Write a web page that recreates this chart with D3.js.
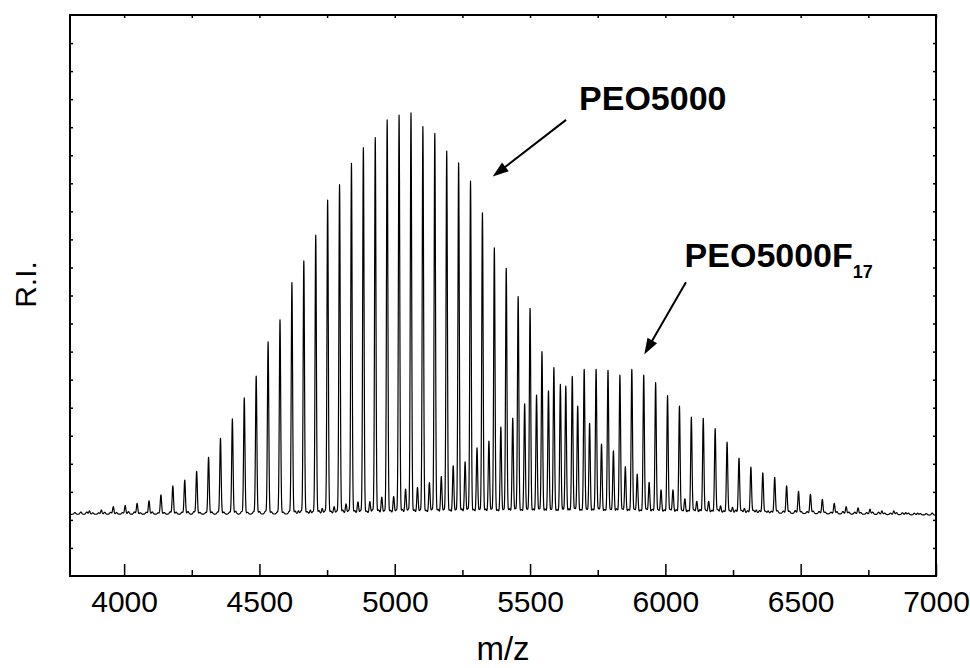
<!DOCTYPE html>
<html>
<head>
<meta charset="utf-8">
<script src="https://cdn.jsdelivr.net/npm/d3@7"></script>
<style>
  body { margin: 0; background: #fff; }
  svg { display: block; }
  text { font-family: "Liberation Sans", Arial, Helvetica, sans-serif; fill: #000; }
</style>
</head>
<body>
<svg id="chart" width="970" height="668"></svg>
<script>
// ---- axes ----
const xDomain = [3800, 7000];
const xMajorTicks = [4000, 4500, 5000, 5500, 6000, 6500, 7000];
const xMinorTicks = [4250, 4750, 5250, 5750, 6250, 6750];
const yDomain = [0, 20];
const yTicks = [1, 2, 3, 4, 5, 6, 7, 8, 9, 10, 11, 12, 13, 14, 15, 16, 17, 18, 19];
const xTitle = "m/z";
const yTitle = "R.I.";

// ---- PEO5000 oligomer peaks (m/z, apex R.I.) ----
const peoMz = [3872, 3916, 3960, 4004, 4048, 4092, 4136, 4180, 4224, 4268, 4312, 4356, 4400, 4444,
  4488, 4532, 4576, 4620, 4664, 4708, 4752, 4796, 4840, 4884, 4928, 4972, 5016, 5060, 5104, 5148,
  5192, 5236, 5280, 5324, 5368, 5412, 5456, 5500, 5544, 5588, 5632, 5676, 5720, 5764, 5808, 5852,
  5896, 5940, 5984, 6028, 6072, 6116, 6160, 6204, 6248, 6292, 6336, 6380];
const peoApex = [2.32, 2.35, 2.47, 2.51, 2.59, 2.68, 2.89, 3.21, 3.42, 3.73, 4.23, 4.91, 5.60, 6.35,
  7.13, 8.35, 9.13, 10.46, 11.23, 12.15, 13.40, 13.95, 14.71, 15.27, 15.63, 16.26, 16.43, 16.51, 16.02, 15.78,
  15.15, 14.73, 14.08, 12.95, 11.70, 10.97, 9.96, 9.54, 8.00, 7.43, 6.77, 6.06, 5.44, 4.70, 4.46, 3.90,
  3.63, 3.34, 3.07, 3.07, 2.75, 2.66, 2.66, 2.50, 2.45, 2.41, 2.35, 2.32];

// ---- PEO5000F17 oligomer peaks (m/z, apex R.I.) ----
const f17Mz = [4644, 4688, 4732, 4776, 4820, 4864, 4908, 4952, 4996, 5040, 5084, 5128, 5172, 5216,
  5260, 5304, 5348, 5392, 5436, 5480, 5524, 5568, 5612, 5656, 5700, 5744, 5788, 5832, 5876, 5920,
  5964, 6008, 6052, 6096, 6140, 6184, 6228, 6272, 6316, 6360, 6404, 6448, 6492, 6536, 6580, 6624,
  6668, 6712, 6756, 6800, 6844, 6888, 6932];
const f17Apex = [2.32, 2.35, 2.41, 2.47, 2.57, 2.64, 2.65, 2.81, 2.83, 3.10, 3.16, 3.33, 3.54, 3.93,
  4.07, 4.57, 4.81, 5.31, 5.63, 6.14, 6.45, 6.60, 6.83, 7.12, 7.37, 7.37, 7.33, 7.16, 7.37, 7.16,
  6.89, 6.43, 6.06, 5.66, 5.62, 5.25, 4.77, 4.20, 3.88, 3.68, 3.52, 3.21, 3.02, 2.91, 2.73, 2.59,
  2.47, 2.43, 2.38, 2.32, 2.32, 2.26, 2.24];

// ---- minor adduct / background peaks (m/z, height above baseline) ----
const minorAMz = [3840, 3884, 3928, 3972, 4016, 4060, 4104, 4148, 4192, 4236, 4280, 4324, 4368, 4412,
  4456, 4500, 4544, 4588, 4632, 4676, 4720, 4764, 4808, 4852, 4896, 4940, 4984, 5028, 5072, 5116,
  5160, 5204, 5248, 5292, 5336, 5380, 5424, 5468, 5512, 5556, 5600, 5644, 5688, 5732, 5776, 5820,
  5864, 5908, 5952, 5996, 6040, 6084, 6128, 6172, 6216, 6260, 6304, 6348, 6392, 6436, 6480, 6524,
  6568, 6612, 6656, 6700, 6744, 6788, 6832, 6876, 6920, 6964];
const minorAH = [0.08, 0.05, 0.07, 0.06, 0.09, 0.05, 0.08, 0.06, 0.07, 0.09,
  0.06, 0.08, 0.07, 0.10, 0.06, 0.09, 0.08, 0.07, 0.10, 0.08,
  0.11, 0.09, 0.12, 0.10, 0.08, 0.12, 0.10, 0.13, 0.11, 0.09,
  0.12, 0.10, 0.13, 0.11, 0.12, 0.09, 0.13, 0.10, 0.12, 0.11,
  0.09, 0.12, 0.10, 0.11, 0.09, 0.12, 0.10, 0.08, 0.11, 0.09,
  0.10, 0.08, 0.11, 0.09, 0.07, 0.10, 0.08, 0.09, 0.07, 0.08,
  0.10, 0.07, 0.08, 0.06, 0.09, 0.07, 0.06, 0.08, 0.05, 0.07,
  0.06, 0.05];
const minorBMz = [3818, 3862, 3906, 3950, 3994, 4038, 4082, 4126, 4170, 4214, 4258, 4302, 4346, 4390,
  4434, 4478, 4522, 4566, 4610, 4654, 4698, 4742, 4786, 4830, 4874, 4918, 4962, 5006, 5050, 5094,
  5138, 5182, 5226, 5270, 5314, 5358, 5402, 5446, 5490, 5534, 5578, 5622, 5666, 5710, 5754, 5798,
  5842, 5886, 5930, 5974, 6018, 6062, 6106, 6150, 6194, 6238, 6282, 6326, 6370, 6414, 6458, 6502,
  6546, 6590, 6634, 6678, 6722, 6766, 6810, 6854, 6898, 6942, 6986];
const minorBH = [0.06, 0.08, 0.05, 0.07, 0.06, 0.08, 0.07, 0.05, 0.08, 0.07,
  0.09, 0.06, 0.08, 0.07, 0.09, 0.08, 0.10, 0.07, 0.09, 0.11,
  0.08, 0.10, 0.09, 0.11, 0.10, 0.12, 0.09, 0.11, 0.13, 0.10,
  0.12, 0.11, 0.10, 0.13, 0.11, 0.12, 0.10, 0.13, 0.11, 0.12,
  0.10, 0.11, 0.13, 0.10, 0.12, 0.09, 0.11, 0.10, 0.12, 0.09,
  0.11, 0.08, 0.10, 0.09, 0.11, 0.08, 0.09, 0.10, 0.07, 0.09,
  0.08, 0.07, 0.09, 0.06, 0.08, 0.07, 0.06, 0.08, 0.05, 0.07,
  0.06, 0.05, 0.07];

// ---- detector baseline ----
const baseMz = [3800, 4600, 5200, 5800, 6400, 7000];
const baseVal = [2.20, 2.21, 2.26, 2.28, 2.24, 2.17];

// ---- annotations: label position and arrow tail/tip in data units ----
const labels = [
  { text: "PEO5000", sub: "", mz: 5681, ri: 16.63, tail: [5633, 16.26], tip: [5362, 14.24] },
  { text: "PEO5000F", sub: "17", mz: 6071, ri: 11.0, tail: [6076, 10.47], tip: [5922, 7.90] }
];

// ---- layout ----
const plot = { left: 70, right: 936, top: 15, bottom: 576 };

const svg = d3.select("#chart");
const x = d3.scaleLinear().domain(xDomain).range([plot.left, plot.right]);
const y = d3.scaleLinear().domain(yDomain).range([plot.bottom, plot.top]);
const baseline = d3.scaleLinear().domain(baseMz).range(baseVal).clamp(true);

// peak list with heights above the baseline
const peaks = [];
peoMz.forEach((m, i) => peaks.push({ c: m, h: Math.max(0, peoApex[i] - baseline(m)), s: 2.5 }));
f17Mz.forEach((m, i) => peaks.push({ c: m, h: Math.max(0, f17Apex[i] - baseline(m)), s: 2.5 }));
minorAMz.forEach((m, i) => peaks.push({ c: m, h: minorAH[i], s: 3.2 }));
minorBMz.forEach((m, i) => peaks.push({ c: m, h: minorBH[i], s: 3.2 }));

// spectrum profile: baseline plus gaussian peak shapes
const step = 0.5;
const profile = [];
for (let m = xDomain[0]; m <= xDomain[1]; m += step) {
  let v = baseline(m);
  for (const p of peaks) {
    const d = m - p.c;
    if (Math.abs(d) < 6 * p.s) v += p.h * Math.exp(-(d * d) / (2 * p.s * p.s));
  }
  profile.push([m, v]);
}

svg.append("defs").append("clipPath").attr("id", "plotClip")
  .append("rect")
  .attr("x", plot.left).attr("y", plot.top)
  .attr("width", plot.right - plot.left).attr("height", plot.bottom - plot.top);

svg.append("path")
  .datum(profile)
  .attr("clip-path", "url(#plotClip)")
  .attr("fill", "none")
  .attr("stroke", "#000")
  .attr("stroke-width", 1.2)
  .attr("stroke-linejoin", "round")
  .attr("d", d3.line().x(d => x(d[0])).y(d => y(d[1])));

// ---- axes (ticks pointing inward) ----
function styleAxis(g) {
  g.select(".domain").remove();
  g.selectAll(".tick line").attr("stroke", "#000").attr("stroke-width", 1.5);
}

svg.append("g")
  .attr("transform", `translate(0,${plot.bottom})`)
  .call(d3.axisBottom(x).tickValues(xMajorTicks).tickSize(-12).tickPadding(15).tickFormat(d3.format("d")))
  .call(styleAxis)
  .call(g => g.selectAll(".tick text").attr("font-size", 30).attr("fill", "#000")
    .style("font-family", '"Liberation Sans", Arial, sans-serif'));

svg.append("g")
  .attr("transform", `translate(0,${plot.bottom})`)
  .call(d3.axisBottom(x).tickValues(xMinorTicks).tickSize(-6).tickFormat(""))
  .call(styleAxis);

svg.append("g")
  .attr("transform", `translate(0,${plot.top})`)
  .call(d3.axisTop(x).tickValues(xMajorTicks.concat(xMinorTicks)).tickSize(-3).tickFormat(""))
  .call(styleAxis);

svg.append("g")
  .attr("transform", `translate(${plot.left},0)`)
  .call(d3.axisLeft(y).tickValues(yTicks).tickSize(-3).tickFormat(""))
  .call(styleAxis);

svg.append("g")
  .attr("transform", `translate(${plot.right},0)`)
  .call(d3.axisRight(y).tickValues(yTicks).tickSize(-3).tickFormat(""))
  .call(styleAxis);

// frame
svg.append("rect")
  .attr("x", plot.left).attr("y", plot.top)
  .attr("width", plot.right - plot.left).attr("height", plot.bottom - plot.top)
  .attr("fill", "none").attr("stroke", "#000").attr("stroke-width", 2);

// axis titles
svg.append("text")
  .attr("x", (plot.left + plot.right) / 2).attr("y", 660)
  .attr("text-anchor", "middle").attr("font-size", 33)
  .text(xTitle);

svg.append("text")
  .attr("transform", `translate(36,${(plot.top + plot.bottom) / 2 - 11}) rotate(-90)`)
  .attr("text-anchor", "middle").attr("font-size", 30)
  .text(yTitle);

// ---- annotations ----
const headLen = 16, headHalf = 5.5;
labels.forEach(a => {
  const t = svg.append("text")
    .attr("x", x(a.mz)).attr("y", y(a.ri))
    .attr("font-size", 34).attr("font-weight", "bold")
    .text(a.text);
  if (a.sub) {
    t.append("tspan").attr("font-size", 18).attr("dy", 11).text(a.sub);
  }
  const x1 = x(a.tail[0]), y1 = y(a.tail[1]);
  const x2 = x(a.tip[0]), y2 = y(a.tip[1]);
  const ang = Math.atan2(y2 - y1, x2 - x1);
  const bx = x2 - headLen * Math.cos(ang), by = y2 - headLen * Math.sin(ang);
  svg.append("line")
    .attr("x1", x1).attr("y1", y1).attr("x2", bx + 2 * Math.cos(ang)).attr("y2", by + 2 * Math.sin(ang))
    .attr("stroke", "#000").attr("stroke-width", 2);
  const px = -Math.sin(ang), py = Math.cos(ang);
  svg.append("path")
    .attr("d", `M${x2},${y2}L${bx + headHalf * px},${by + headHalf * py}L${bx - headHalf * px},${by - headHalf * py}Z`)
    .attr("fill", "#000");
});
</script>
</body>
</html>
